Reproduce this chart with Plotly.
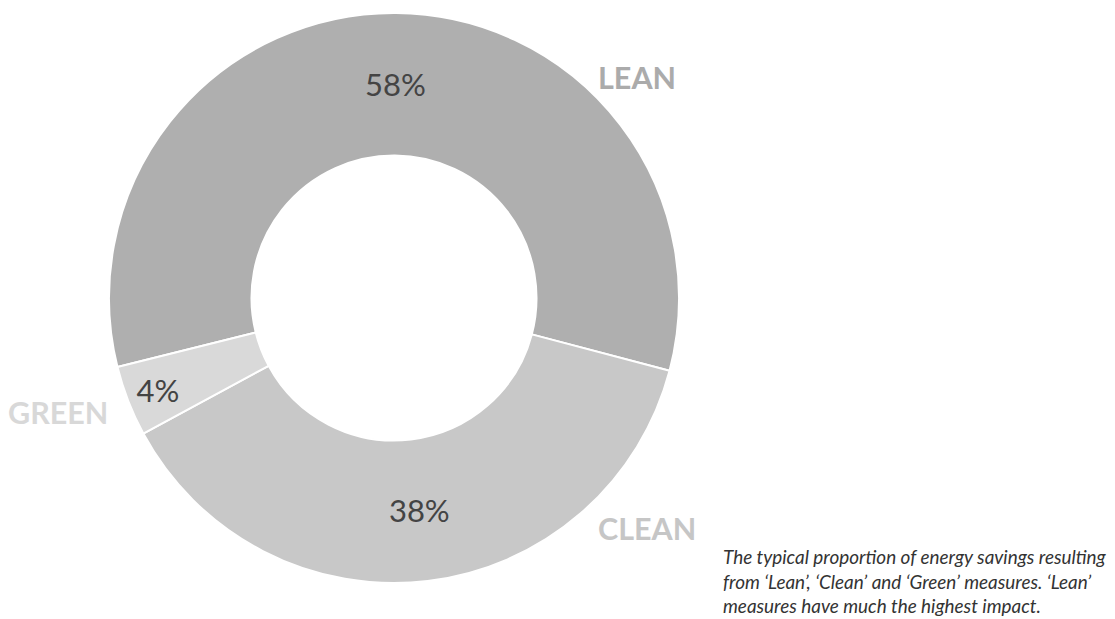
import plotly.graph_objects as go

categories = ["LEAN", "CLEAN", "GREEN"]
values = [58, 38, 4]
slice_colors = ["#afafaf", "#c8c8c8", "#d9d9d9"]
label_colors = ["#ababab", "#c6c6c6", "#d8d8d8"]
caption = ("The typical proportion of energy savings resulting<br>"
           "from ‘Lean’, ‘Clean’ and ‘Green’ measures. ‘Lean’<br>"
           "measures have much the highest impact.")

W, H = 1115, 619
cx, cy, R = 394, 298, 285

fig = go.Figure()
fig.add_trace(go.Pie(
    labels=categories,
    values=values,
    sort=False,
    direction="clockwise",
    rotation=256,
    hole=0.5,
    marker=dict(colors=slice_colors, line=dict(color="white", width=2)),
    textinfo="percent",
    textposition="inside",
    insidetextorientation="horizontal",
    textfont=dict(family="Lato", size=31, color="#444444"),
    showlegend=False,
    domain=dict(x=[(cx - R) / W, (cx + R) / W],
                y=[(H - cy - R) / H, (H - cy + R) / H]),
))

label_pos = {"LEAN": (637, 77), "CLEAN": (647, 528), "GREEN": (58, 412)}
for cat, col in zip(categories, label_colors):
    px, py = label_pos[cat]
    fig.add_annotation(
        x=px / W, y=1 - py / H, xref="paper", yref="paper",
        yanchor="middle", xanchor="center",
        text="<b>" + cat + "</b>", showarrow=False,
        font=dict(family="Lato", size=30.5, color=col),
    )

fig.add_annotation(
    x=721 / W, y=1 - 543 / H, xref="paper", yref="paper",
    xanchor="left", yanchor="top", align="left",
    text="<i>" + caption + "</i>", showarrow=False,
    font=dict(family="Lato", size=18.9, color="#333333"),
)

fig.update_layout(
    width=W, height=H,
    margin=dict(l=0, r=0, t=0, b=0),
    paper_bgcolor="white",
    plot_bgcolor="white",
    uniformtext=dict(minsize=31, mode="show"),
)
fig.write_html("out.html",
               config={"displayModeBar": False},
               post_script="document.body.style.margin='0';document.body.style.overflow='hidden';")
